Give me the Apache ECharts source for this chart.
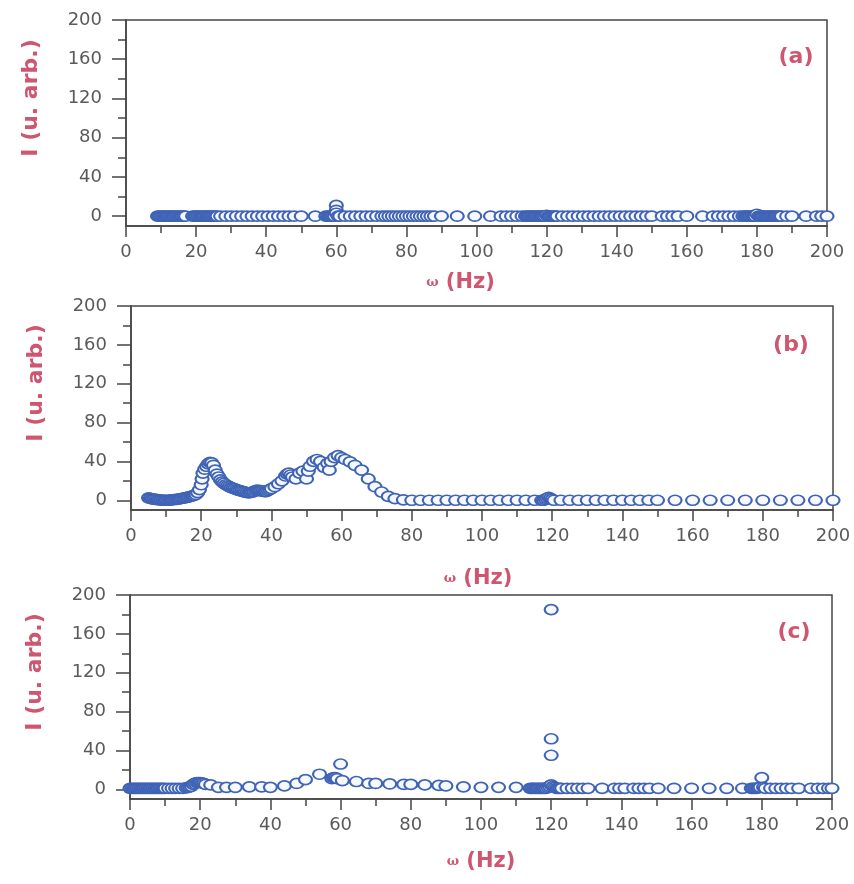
<!DOCTYPE html>
<html>
<head>
<meta charset="utf-8">
<script src="https://cdn.jsdelivr.net/npm/echarts@6/dist/echarts.min.js"></script>
<style>
html,body{margin:0;padding:0;background:#fff;}
#chart{width:854px;height:884px;}
</style>
</head>
<body>
<div id="chart"></div>
<script>
// ---- data ----
const xTicks = [0, 20, 40, 60, 80, 100, 120, 140, 160, 180, 200];
const yTicks = [0, 40, 80, 120, 160, 200];
const yMinorTicks = [20, 60, 100, 140, 180];
const panelLabels = ['(a)', '(b)', '(c)'];
const xTitle = 'ω (Hz)';
const yTitle = 'I (u. arb.)';

// panel (a): [frequency Hz, intensity]
const dataA = [
  [9,0],[9.5,0],[10,0],[10.5,0],[11,0],[11.5,0],[12,0],[12.5,0],[13,0],[13.5,0],[14,0],[14.5,0],[15,0],[15.5,0],[16,0],[16.5,0],[17,0],
  [19,0],[19.5,0],[20,0],[20.5,0],[21,0],[21.5,0],[22,0],[22.5,0],[23,0],[23.5,0],[24,0],[24.5,0],[25,0],[25.5,0],[26,0],
  [27,0],[28.5,0],[30,0],[31.5,0],[33,0],[34.5,0],[36,0],[37.5,0],[39,0],[40.5,0],[42,0],[43.5,0],[45,0],[46.5,0],[48,0],[50,0],
  [54,0],
  [57,0],[57.5,0],[58,0],[58.5,0],[59,0],[59.5,0],[60,11],[60,6],[60,3],[60.5,0],[61,0],
  [62.5,0],[64,0],[65.5,0],[67,0],[68.5,0],[70,0],[71.5,0],[73,0],
  [74,0],[75,0],[76,0],[77,0],[78,0],[79,0],[80,0],[81,0],[82,0],[83,0],[84,0],[85,0],[86,0],[87,0],[88,0],
  [90,0],[94.5,0],[99.5,0],[104,0],
  [107,0],[108.5,0],[110,0],[111.5,0],[113,0],
  [114,0],[114.5,0],[115,0],[115.5,0],[116,0],[116.5,0],[117,0],[117.5,0],[118,0],[118.5,0],[119,0],[119.5,0],[120,1],[120.5,0],[121,0],[121.5,0],[122,0],[122.5,0],[123,0],
  [124.5,0],[126,0],[127.5,0],[129,0],[130.5,0],[132,0],[133.5,0],[135,0],[136.5,0],[138,0],[139.5,0],[141,0],[142.5,0],[144,0],[145.5,0],[147,0],[148.5,0],[150,0],
  [153,0],[154.5,0],[156,0],[157.5,0],[160,0],[164.5,0],
  [167.5,0],[169,0],[170.5,0],[172,0],[173.5,0],[175,0],
  [176,0],[176.5,0],[177,0],[177.5,0],[178,0],[178.5,0],[179,0],[179.5,0],[180,2],[180.5,0],[181,0],[181.5,0],[182,0],[182.5,0],[183,0],[183.5,0],[184,0],[184.5,0],[185,0],[185.5,0],[186,0],[186.5,0],[187,0],
  [188.5,0],[190,0],[194,0],[197,0],[198.5,0],[200,0]
];

// panel (b)
const dataB = [
  [5,2.5],[5.5,2],[6,1.5],[6.5,1.2],[7,1],[7.5,0.8],[8,0.5],[8.5,0.3],[9,0.2],[9.5,0],[10,0],[10.5,0],[11,0.2],[11.5,0.4],[12,0.6],[12.5,0.8],[13,1],[13.5,1.3],[14,1.6],[14.5,2],[15,2.3],[15.5,2.7],[16,3],[16.5,3.5],[17,4],[17.5,4.5],[18,5],[18.5,6],
  [19,8],[19.5,11],[20,16],[20.25,22],[20.5,28],[21,32],[21.5,35],[22,37.5],[22.5,39],[23,38.5],[23.5,36],[24,31],[24.5,27],[25,24],[25.5,21],[26,19],[26.5,17.5],[27,16],[27.5,15],[28,14],[28.5,13],[29,12.5],[29.5,12],[30,11],[30.5,10.5],[31,10],[31.5,9.5],[32,9],[32.5,8.5],[33,8],[33.5,7.5],[34,8],[34.5,8.5],[35,9],[35.5,10],[36,10.5],[36.5,10],[37,10],[37.5,9.5],[38,9],[38.5,9],[39,10],[39.5,11],[40,12],
  [41,14],[42,17],[43,20],[44,25],[44.5,27],[45,28],[45.5,26],[46,24],[47,22],[48,28],[49,30],[50,22],[50.5,30],[51,35],[52,40],[53,42],[54,40],[55,34],[56,38],[56.5,31],[57,40],[58,44],[59,46],[60,44],[61,42],[62.4,39.5],[63.8,36],[65.7,31],[67.6,22],[69.5,14],[71.4,8.5],[73.3,4],[75.2,1.7],
  [77.6,0.5],[80,0],[82.5,0],[85,0],[87.5,0],[90,0],[92.5,0],[95,0],[97.5,0],[100,0],[102.5,0],[105,0],[107.5,0],[110,0],[112.5,0],[115,0],
  [117,0],[117.5,0],[118,1],[118.5,2],[119,3],[119.5,2],[120,1],[120.5,0],
  [122.5,0],[125,0],[127.5,0],[130,0],[132.5,0],[135,0],[137.5,0],[140,0],[142.5,0],[145,0],[147.5,0],[150,0],
  [155,0],[160,0],[165,0],[170,0],[175,0],[180,0],[185,0],[190,0],[195,0],[200,0]
];

// panel (c)
const dataC = [
  [0,1],[0.5,1],[1,1],[1.5,1],[2,1],[2.5,1],[3,1],[3.5,1],[4,1],[4.5,1],[5,1],[5.5,1],[6,1],[6.5,1],[7,1],[7.5,1],[8,1],[8.5,1],[9,1],[9.5,1],[10,1],[11,1],[12,1],[13,1],[14,1],[15,1],[16,1.5],[16.5,2],[17,2.5],
  [17.5,3],[18,5],[18.5,6],[19,7],[19.5,7],[20,7],[20.5,6.5],[21,6],[21.5,5],
  [23,4.5],[25.2,2],[27.5,2],[30,2],[34,2.5],[37.5,2.5],[40,2],[44,3.5],[47.5,6],[50,10],[54,15.5],[57.5,11],[58,12],[58.5,12],[59,11],[60,26],[60.5,9],
  [64.5,8],[68,6],[70,6],[74,5.5],[78,5],[80,5],[84,4.5],[88,4],[90,3.5],[95,2.5],[100,2],[105,2],[110,2],
  [114,1],[114.5,1],[115,1],[115.5,1],[116,1],[116.5,1],[117,1],[117.5,1],[118,1],[118.5,1],[119,2],[119.5,3],[120,4.5],[120,185],[120,52],[120,35],[120.5,3],[121,2],[121.5,1],[122,1],[122.5,1],[123,1],
  [124.5,1],[126,1],[127.5,1],[129,1],[130.5,1],[134.5,1],[138,1],[139.5,1],[141,1],[143.5,1],[145,1],[146.5,1],[148,1],[150.5,1],
  [155,1],[160,1],[165,1],[170,1],[174.5,1],
  [177,1],[177.5,1],[178,1],[178.5,1],[179,1.5],[179.5,2],[180,12],[180.5,2],[181,1],
  [182.5,1],[184,1],[185.5,1],[187,1],[188.5,1],[190.5,1],[194,1],[196,1],[197.5,1],[199,1],[200,1]
];

// ---- layout / style ----
const grids = [
  {left:126, top:20, width:701, height:206},
  {left:131, top:306, width:702, height:204},
  {left:130, top:595, width:702, height:204}
];
const xNameGaps = [46, 58, 52];
const xNameShift = [32, 8, 0];
const labelPos = [[796,57],[791,345],[794,632]];
const datasets = [dataA, dataB, dataC];

const axisColor = '#454545';
const tickLabelColor = '#5a5a5a';
const titleColor = '#cf5670';
const markerColor = '#3f63b5';

const option = {
  animation:false,
  backgroundColor:'#ffffff',
  grid: grids.map(g => Object.assign({show:true, borderColor:axisColor, borderWidth:1.5, backgroundColor:'transparent', containLabel:false}, g)),
  xAxis: grids.map((g,i) => ({
    type:'value', gridIndex:i, min:0, max:200, interval:20,
    axisLine:{show:true, onZero:false, lineStyle:{color:axisColor, width:1.5}},
    axisTick:{show:true, inside:false, length:11, lineStyle:{color:axisColor, width:1.5}},
    minorTick:{show:true, splitNumber:2, length:7, lineStyle:{color:axisColor, width:1.5}},
    axisLabel:{margin:17, fontSize:18, color:tickLabelColor, fontFamily:'DejaVu Sans'},
    splitLine:{show:false}, minorSplitLine:{show:false},
    name:'{w|ω} (Hz)', nameLocation:'middle', nameGap:xNameGaps[i],
    nameTextStyle:{fontSize:21, fontWeight:'bold', color:titleColor, fontFamily:'DejaVu Sans',
      padding:[0, xNameShift[i], 0, 0],
      rich:{w:{fontSize:13, fontWeight:'bold', color:titleColor, fontFamily:'DejaVu Serif', padding:[0,0,0,0]}}}
  })),
  yAxis: [].concat(...grids.map((g,i) => ([
    {
      type:'value', gridIndex:i, min:-10, max:200, position:'left',
      axisLine:{show:true, lineStyle:{color:axisColor, width:1.5}},
      axisTick:{show:true, inside:false, length:14, customValues:yTicks, lineStyle:{color:axisColor, width:1.5}},
      axisLabel:{customValues:yTicks, margin:24, fontSize:18, color:tickLabelColor, fontFamily:'DejaVu Sans'},
      splitLine:{show:false},
      name:yTitle, nameLocation:'middle', nameGap:84, nameRotate:90,
      nameTextStyle:{fontSize:22, fontWeight:'bold', color:titleColor, fontFamily:'DejaVu Sans', padding:[0,0,0,50]}
    },
    {
      type:'value', gridIndex:i, min:-10, max:200, position:'left',
      axisLine:{show:false},
      axisTick:{show:true, inside:false, length:8, customValues:yMinorTicks, lineStyle:{color:axisColor, width:1.5}},
      axisLabel:{show:false},
      splitLine:{show:false}
    }
  ]))),
  graphic: panelLabels.map((t,i) => ({
    type:'text', x:labelPos[i][0], y:labelPos[i][1],
    style:{text:t, fill:titleColor, font:'bold 22px "DejaVu Sans"', textAlign:'center', textVerticalAlign:'middle'}
  })),
  series: datasets.map((d,i) => ({
    type:'scatter', xAxisIndex:i, yAxisIndex:2*i, data:d,
    symbol:'circle', symbolSize:[13,10], clip:false,
    itemStyle:{color:'#f6f9ff', borderColor:markerColor, borderWidth:1.9, opacity:1},
    emphasis:{disabled:true}
  }))
};

const chart = echarts.init(document.getElementById('chart'), null, {renderer:'canvas'});
chart.setOption(option);
</script>
</body>
</html>
